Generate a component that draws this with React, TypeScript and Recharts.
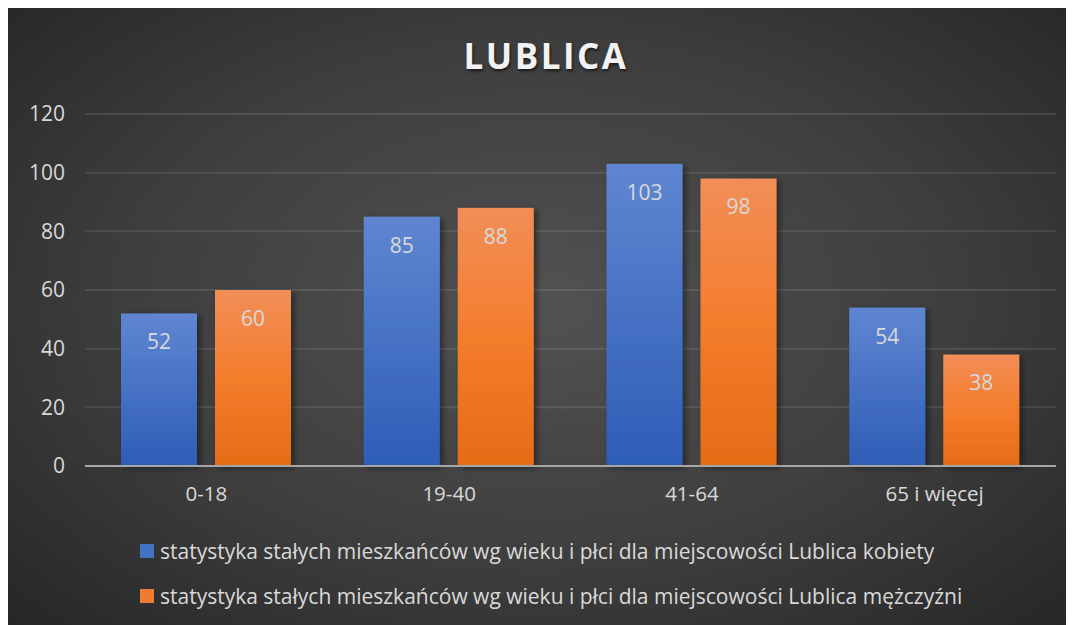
import React from 'react';
import { BarChart, Bar, XAxis, YAxis, CartesianGrid, LabelList } from 'recharts';

const categories = ['0-18', '19-40', '41-64', '65 i więcej'];
const kobiety = [52, 85, 103, 54];
const mezczyzni = [60, 88, 98, 38];
const yTicks = [0, 20, 40, 60, 80, 100, 120];

const seriesNames = [
  'statystyka stałych mieszkańców wg wieku i płci dla miejscowości Lublica kobiety',
  'statystyka stałych mieszkańców wg wieku i płci dla miejscowości Lublica mężczyźni',
];

const data = categories.map((name, i) => ({ name, k: kobiety[i], m: mezczyzni[i] }));

const FONT = '"Open Sans", sans-serif';
const TEXT = '#d9d9d9';

const ShadowBar = (props: any) => {
  const { x, y, width, height, fill } = props;
  if (!height || height <= 0) return null;
  return <rect x={x} y={y} width={width} height={height} fill={fill} filter="url(#barShadow)" />;
};

export default function App() {
  return (
    <div
      style={{
        position: 'relative',
        width: 1066,
        height: 617,
        background: 'radial-gradient(ellipse 70% 75% at 50% 48%, #525252 0%, #3e3e3e 55%, #262626 100%)',
        fontFamily: FONT,
      }}
    >
      <div
        style={{
          position: 'absolute',
          top: 24,
          left: 5,
          width: '100%',
          textAlign: 'center',
          color: '#f2f2f2',
          fontSize: 35,
          fontWeight: 700,
          letterSpacing: 2.5,
          textShadow: '1px 2px 3px rgba(0,0,0,0.6)',
        }}
      >
        LUBLICA
      </div>
      <BarChart
        width={1066}
        height={617}
        data={data}
        margin={{ top: 106, right: 18, left: 20, bottom: 129 }}
        barGap={18}
        barSize={76}
      >
        <defs>
          <linearGradient id="gBlue" x1="0" y1="0" x2="0" y2="1">
            <stop offset="0%" stopColor="#5f86d2" />
            <stop offset="100%" stopColor="#2e5db6" />
          </linearGradient>
          <linearGradient id="gOrange" x1="0" y1="0" x2="0" y2="1">
            <stop offset="0%" stopColor="#f28e58" />
            <stop offset="50%" stopColor="#f47d2c" />
            <stop offset="100%" stopColor="#e56c17" />
          </linearGradient>
          <filter id="barShadow" x="-20%" y="-10%" width="150%" height="130%">
            <feDropShadow dx="3" dy="2" stdDeviation="3" floodColor="#000" floodOpacity="0.45" />
          </filter>
        </defs>
        <CartesianGrid vertical={false} stroke="rgba(255,255,255,0.1)" strokeWidth={2} />
        <XAxis
          dataKey="name"
          axisLine={{ stroke: '#a6a6a6', strokeWidth: 2 }}
          tickLine={false}
          tick={{ fill: TEXT, fontSize: 20.5, fontFamily: FONT }}
          dy={12}
        />
        <YAxis
          width={57}
          domain={[0, 120]}
          ticks={yTicks}
          axisLine={false}
          tickLine={false}
          tick={{ fill: TEXT, fontSize: 21, fontFamily: FONT, textAnchor: 'end' }}
          dx={-12}
        />
        <Bar dataKey="k" fill="url(#gBlue)" shape={ShadowBar} isAnimationActive={false}>
          <LabelList dataKey="k" position="insideTop" offset={21} fill={TEXT} fontSize={21} fontFamily={FONT} />
        </Bar>
        <Bar dataKey="m" fill="url(#gOrange)" shape={ShadowBar} isAnimationActive={false}>
          <LabelList dataKey="m" position="insideTop" offset={21} fill={TEXT} fontSize={21} fontFamily={FONT} />
        </Bar>
      </BarChart>
      <div style={{ position: 'absolute', left: 132, top: 520, color: TEXT, fontSize: 21 }}>
        {seriesNames.map((n, i) => (
          <div key={n} style={{ display: 'flex', alignItems: 'center', height: 45 }}>
            <span
              style={{
                display: 'inline-block',
                width: 14,
                height: 14,
                marginRight: 6,
                background: i === 0 ? '#4472c4' : '#ed7d31',
              }}
            />
            <span>{n}</span>
          </div>
        ))}
      </div>
    </div>
  );
}
